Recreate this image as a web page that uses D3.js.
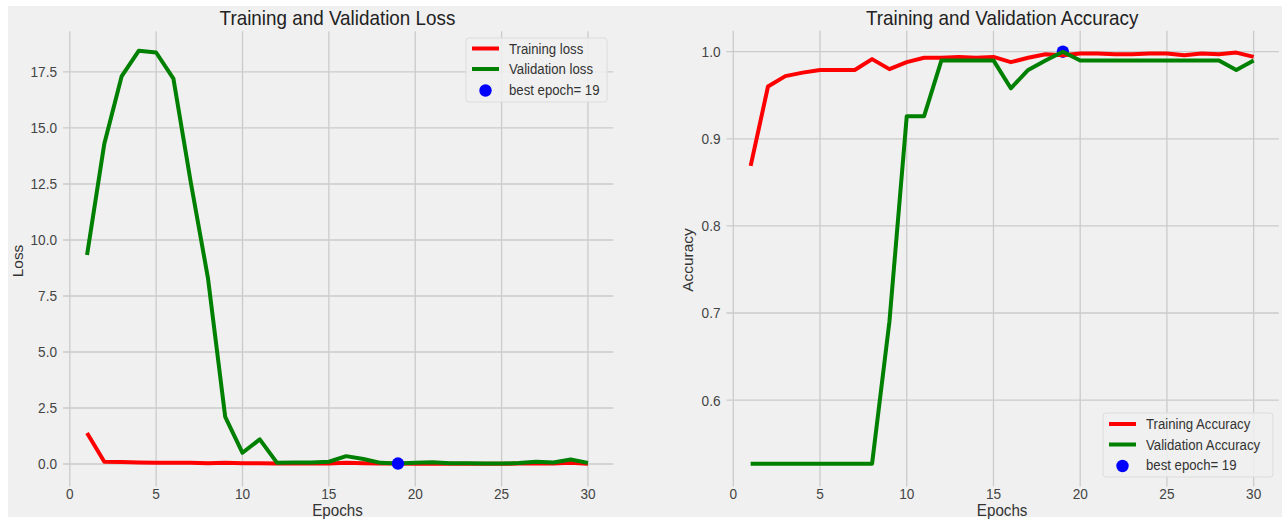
<!DOCTYPE html>
<html>
<head>
<meta charset="utf-8">
<script src="https://cdn.jsdelivr.net/npm/d3@7/dist/d3.min.js"></script>
<style>
  html, body { margin: 0; padding: 0; background: #ffffff; }
  svg { display: block; font-family: "Liberation Sans", Arial, sans-serif; }
</style>
</head>
<body>
<svg id="chart" width="1282" height="522"></svg>
<script>
// ---------- data ----------
const epochs = d3.range(1, 31);
const trainLoss = [1.38, 0.10, 0.09, 0.07, 0.06, 0.06, 0.06, 0.03, 0.06, 0.03,
                   0.03, 0.02, 0.02, 0.02, 0.02, 0.05, 0.03, 0.02, 0.02, 0.01,
                   0.02, 0.01, 0.01, 0.01, 0.01, 0.02, 0.02, 0.02, 0.06, 0.01];
const valLoss   = [9.33, 14.3, 17.3, 18.45, 18.37, 17.2, 12.6, 8.3, 2.1, 0.5,
                   1.1, 0.05, 0.07, 0.07, 0.10, 0.35, 0.22, 0.05, 0.02, 0.05,
                   0.08, 0.03, 0.03, 0.02, 0.02, 0.04, 0.10, 0.07, 0.20, 0.05];
const trainAcc  = [0.869, 0.960, 0.972, 0.976, 0.979, 0.979, 0.979, 0.9915, 0.980, 0.988,
                   0.993, 0.993, 0.994, 0.993, 0.994, 0.988, 0.993, 0.997, 0.996, 0.998,
                   0.998, 0.997, 0.997, 0.998, 0.998, 0.996, 0.998, 0.997, 0.999, 0.994];
const valAcc    = [0.527, 0.527, 0.527, 0.527, 0.527, 0.527, 0.527, 0.527, 0.690, 0.926,
                   0.926, 0.990, 0.990, 0.990, 0.990, 0.958, 0.979, 0.990, 1.000, 0.990,
                   0.990, 0.990, 0.990, 0.990, 0.990, 0.990, 0.990, 0.990, 0.979, 0.990];
const bestEpoch = 19;
const xTicks = [0, 5, 10, 15, 20, 25, 30];
const lossTicks = [0.0, 2.5, 5.0, 7.5, 10.0, 12.5, 15.0, 17.5];
const accTicks = [0.6, 0.7, 0.8, 0.9, 1.0];
const titles = ["Training and Validation Loss", "Training and Validation Accuracy"];
const yLabels = ["Loss", "Accuracy"];
const lossLegend = ["Training loss", "Validation loss", "best epoch= " + bestEpoch];
const accLegend = ["Training Accuracy", "Validation Accuracy", "best epoch= " + bestEpoch];

// ---------- styling ----------
const BG = "#f0f0f0", GRID = "#cbcbcb", TXT = "#444444";
const SX = 0.88; // horizontal squeeze of the reference text
const svg = d3.select("#chart");
svg.append("rect").attr("x", 8).attr("y", 6).attr("width", 1274).attr("height", 511).attr("fill", BG);

function txt(parent, x, y, str, size, anchor, fill, sx, dy) {
  return parent.append("text")
    .attr("transform", `translate(${x},${y}) scale(${sx},1)`)
    .attr("text-anchor", anchor).attr("font-size", size).attr("fill", fill)
    .attr("dy", dy || 0).text(str);
}

function panel(cfg) {
  const g = svg.append("g");
  const x = d3.scaleLinear().domain([-0.45, 31.45]).range([cfg.left, cfg.right]);
  const y = d3.scaleLinear().domain(cfg.yDomain).range([cfg.bottom, cfg.top]);

  // grid
  g.append("g").selectAll("line").data(xTicks).join("line")
    .attr("x1", d => x(d)).attr("x2", d => x(d))
    .attr("y1", cfg.top).attr("y2", cfg.bottom + 2)
    .attr("stroke", GRID).attr("stroke-width", 1.3);
  g.append("g").selectAll("line").data(cfg.yTicks).join("line")
    .attr("x1", cfg.left + 1).attr("x2", cfg.right)
    .attr("y1", d => y(d)).attr("y2", d => y(d))
    .attr("stroke", GRID).attr("stroke-width", 1.3);

  // tick labels
  const tg = g.append("g");
  xTicks.forEach(d => txt(tg, x(d), 499, d, 15.5, "middle", TXT, SX));
  cfg.yTicks.forEach(d => txt(tg, cfg.left - 5, y(d), d.toFixed(1), 15.5, "end", TXT, SX, "0.35em"));

  // titles / labels
  const cx = (cfg.left + cfg.right) / 2;
  txt(g, cx, 25, cfg.title, 20.5, "middle", "#222", 0.92);
  txt(g, cx, 516, "Epochs", 16.5, "middle", "#333", 0.92);
  g.append("text").attr("transform", `translate(${cfg.yLabelX},${cfg.yLabelY}) rotate(-90) scale(1,0.92)`)
    .attr("text-anchor", "middle").attr("font-size", 15.5).attr("fill", "#333").text(cfg.yLabel);

  const line = d3.line().x((d, i) => x(epochs[i])).y(d => y(d));
  const dot = () => g.append("circle")
    .attr("cx", x(bestEpoch)).attr("cy", y(cfg.val[bestEpoch - 1])).attr("r", 6.2).attr("fill", "#0000ff");
  if (!cfg.dotOnTop) dot();
  g.append("path").datum(cfg.train).attr("d", line).attr("fill", "none")
    .attr("stroke", "#ff0000").attr("stroke-width", 4).attr("stroke-linejoin", "round");
  g.append("path").datum(cfg.val).attr("d", line).attr("fill", "none")
    .attr("stroke", "#008000").attr("stroke-width", 4).attr("stroke-linejoin", "round");
  if (cfg.dotOnTop) dot();

  // legend
  const L = cfg.legend;
  const lg = g.append("g");
  lg.append("rect").attr("x", L.x).attr("y", L.y).attr("width", L.w).attr("height", L.h)
    .attr("rx", 3).attr("fill", BG).attr("fill-opacity", 0.85)
    .attr("stroke", "#dcdcdc").attr("stroke-width", 1);
  L.labels.forEach((lab, i) => {
    const yy = L.y + L.first + i * L.step;
    if (i < 2) {
      lg.append("line").attr("x1", L.x + 6).attr("x2", L.x + 33).attr("y1", yy).attr("y2", yy)
        .attr("stroke", i === 0 ? "#ff0000" : "#008000").attr("stroke-width", 4);
    } else {
      lg.append("circle").attr("cx", L.x + 19.5).attr("cy", yy + 1).attr("r", 6.2).attr("fill", "#0000ff");
    }
    txt(lg, L.x + 43, yy, lab, 15, "start", "#333", SX, "0.35em");
  });
}

panel({
  left: 62, right: 613, top: 31.2, bottom: 484.6,
  yDomain: [-0.92, 19.32], yTicks: lossTicks,
  train: trainLoss, val: valLoss, title: titles[0], yLabel: yLabels[0],
  yLabelX: 23, yLabelY: 261, dotOnTop: true,
  legend: { x: 466, y: 38, w: 141, h: 64, first: 10.5, step: 20.5, labels: lossLegend }
});
panel({
  left: 725.5, right: 1278.8, top: 30.8, bottom: 484.6,
  yDomain: [0.503, 1.024], yTicks: accTicks,
  train: trainAcc, val: valAcc, title: titles[1], yLabel: yLabels[1],
  yLabelX: 693, yLabelY: 260, dotOnTop: false,
  legend: { x: 1103, y: 413, w: 170, h: 64, first: 11, step: 20.5, labels: accLegend }
});
</script>
</body>
</html>
